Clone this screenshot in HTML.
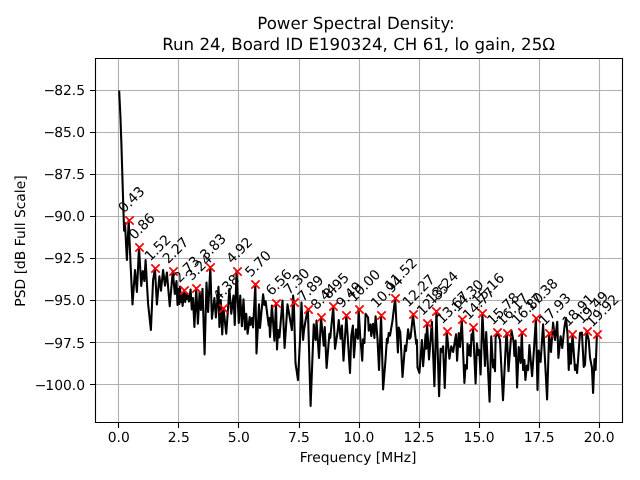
<!DOCTYPE html>
<html lang="en"><head><meta charset="utf-8"><title>Power Spectral Density</title>
<style>html,body{margin:0;padding:0;background:#fff;}svg{display:block;will-change:transform;}text{font-family:"DejaVu Sans", "Liberation Sans", sans-serif;fill:#000;text-rendering:geometricPrecision;}text.a{letter-spacing:-0.25px;}</style>
</head><body>
<svg width="640" height="480" viewBox="0 0 640 480">
<rect x="0" y="0" width="640" height="480" fill="#ffffff"/>
<path d="M118.5 58.50V422.50M178.5 58.50V422.50M238.5 58.50V422.50M299.5 58.50V422.50M359.5 58.50V422.50M419.5 58.50V422.50M479.5 58.50V422.50M539.5 58.50V422.50M599.5 58.50V422.50M95.50 90.5H622.50M95.50 132.5H622.50M95.50 174.5H622.50M95.50 216.5H622.50M95.50 258.5H622.50M95.50 300.5H622.50M95.50 342.5H622.50M95.50 384.5H622.50" fill="none" stroke="#b0b0b0" stroke-width="1.111"/>
<path d="M119.20 91.50 L120.40 116.00 L121.30 141.00 L123.10 200.00 L124.10 230.60 L125.00 223.00 L126.90 260.00 L128.69 220.30 L130.60 265.00 L132.50 304.40 L135.00 270.00 L136.90 291.90 L139.01 247.50 L141.25 286.00 L142.75 271.00 L144.40 281.00 L145.60 260.00 L148.10 304.00 L150.90 330.00 L153.10 280.00 L154.96 268.50 L156.90 304.40 L159.40 276.25 L161.00 290.60 L163.10 270.00 L165.00 285.60 L166.90 272.50 L169.75 306.25 L172.79 271.00 L174.80 294.00 L176.50 281.00 L177.50 305.00 L178.40 289.00 L179.30 304.00 L180.00 286.50 L181.00 302.00 L181.70 294.00 L182.60 306.00 L183.50 297.00 L184.05 290.00 L185.20 302.00 L186.00 294.00 L186.80 299.00 L187.80 295.00 L189.00 301.50 L190.60 289.50 L191.80 309.50 L193.00 298.00 L194.40 327.00 L196.25 288.00 L197.90 323.75 L199.60 291.90 L200.90 310.00 L202.50 288.75 L204.60 354.40 L206.50 282.50 L208.10 311.90 L210.32 267.50 L211.90 318.75 L214.40 298.00 L215.90 317.50 L218.50 286.90 L219.40 327.00 L220.80 300.00 L222.25 334.40 L223.46 308.40 L226.25 333.75 L229.40 288.75 L231.25 313.75 L233.50 295.60 L234.75 325.00 L236.59 271.00 L238.75 323.00 L240.25 295.60 L241.90 326.25 L243.50 299.40 L245.00 329.40 L246.25 313.75 L247.60 333.75 L249.75 317.00 L250.50 325.00 L252.00 318.00 L253.10 327.50 L255.36 284.40 L256.50 353.50 L259.00 304.40 L260.00 328.00 L263.10 294.40 L264.40 305.00 L265.60 301.25 L268.75 325.60 L269.30 318.00 L270.00 337.00 L271.90 305.60 L274.40 340.60 L276.00 303.00 L277.00 349.40 L278.10 330.00 L279.40 337.50 L282.50 300.60 L284.60 348.00 L287.50 304.40 L291.90 330.00 L293.10 295.60 L293.83 302.00 L295.50 363.00 L298.00 380.00 L300.00 340.00 L301.50 302.50 L303.10 340.00 L304.00 330.00 L306.00 318.00 L307.90 309.00 L310.60 406.00 L313.75 324.40 L315.60 340.00 L316.50 320.60 L319.00 358.00 L321.04 317.25 L323.75 345.60 L324.75 327.00 L326.60 368.00 L329.40 333.75 L330.25 338.00 L333.24 306.50 L335.00 348.75 L337.50 332.50 L338.75 320.00 L340.60 338.75 L341.90 325.60 L343.50 360.60 L346.37 315.60 L350.00 373.00 L351.25 336.25 L352.90 325.60 L354.00 357.50 L356.00 329.40 L357.90 338.75 L358.57 309.40 L360.20 336.00 L362.25 360.60 L363.10 339.40 L364.40 343.00 L365.60 313.75 L368.10 317.50 L368.75 330.60 L370.60 324.40 L371.25 336.00 L373.10 323.75 L374.40 338.00 L375.60 316.25 L377.50 338.75 L379.00 370.00 L381.09 315.60 L383.10 389.40 L385.60 358.75 L386.90 338.75 L387.50 343.00 L388.75 333.00 L390.00 335.60 L392.50 320.60 L395.16 298.00 L397.90 352.50 L398.75 327.50 L400.25 332.00 L402.50 377.00 L405.00 345.60 L406.00 351.00 L408.10 329.40 L409.40 338.75 L410.60 337.50 L412.99 314.40 L416.25 344.00 L416.90 340.00 L417.50 367.50 L419.40 373.00 L421.90 340.00 L423.10 366.25 L425.60 334.40 L426.25 348.75 L427.06 323.00 L429.00 359.40 L431.90 321.90 L434.40 386.25 L436.45 311.25 L439.10 396.25 L440.60 348.75 L441.50 352.00 L443.10 346.25 L444.75 388.00 L446.77 331.25 L449.40 358.75 L451.25 346.25 L453.10 352.00 L456.00 334.40 L457.10 360.60 L458.75 333.00 L460.00 347.00 L461.78 319.40 L464.40 383.00 L465.60 365.00 L466.90 368.75 L467.50 343.75 L468.75 355.00 L470.00 345.00 L470.60 356.25 L471.50 334.40 L472.50 340.00 L473.04 327.25 L475.60 383.50 L476.90 343.50 L478.40 355.00 L479.20 350.00 L480.60 374.40 L482.42 313.00 L485.00 366.00 L486.20 332.00 L489.60 401.70 L491.25 336.25 L493.10 367.50 L494.00 360.00 L495.00 371.25 L495.60 337.50 L497.44 332.50 L500.00 340.00 L503.00 400.10 L506.25 336.00 L506.82 333.00 L508.50 371.25 L511.50 330.60 L513.75 342.50 L514.40 356.00 L515.60 340.60 L517.10 387.50 L518.75 347.00 L520.60 363.00 L521.83 332.25 L523.10 370.00 L524.40 360.00 L525.40 380.00 L526.90 365.60 L528.10 370.00 L529.40 345.00 L532.10 376.25 L533.75 352.50 L535.91 318.40 L537.50 390.00 L538.75 350.60 L540.60 362.00 L543.10 324.40 L547.10 399.40 L548.75 346.00 L549.04 333.00 L551.00 352.00 L553.10 322.50 L555.00 340.00 L557.25 321.90 L558.40 358.00 L560.60 336.25 L562.25 348.00 L564.40 327.50 L566.00 318.00 L567.50 333.75 L568.75 370.00 L570.00 343.75 L570.90 363.75 L572.50 334.00 L575.00 370.00 L576.00 365.00 L577.10 373.00 L580.00 333.00 L581.90 332.50 L583.75 367.00 L585.00 365.00 L586.57 331.25 L588.75 340.00 L590.00 357.50 L591.90 367.50 L593.10 393.00 L594.50 359.00 L595.60 370.00 L596.89 334.40" fill="none" stroke="#000000" stroke-width="2.083" stroke-linejoin="round" stroke-linecap="square"/>
<path d="M125.33 216.33L133.67 224.67M125.33 224.67L133.67 216.33M135.33 243.33L143.67 251.67M135.33 251.67L143.67 243.33M151.33 264.33L159.67 272.67M151.33 272.67L159.67 264.33M169.33 267.33L177.67 275.67M169.33 275.67L177.67 267.33M180.33 286.33L188.67 294.67M180.33 294.67L188.67 286.33M192.33 284.33L200.67 292.67M192.33 292.67L200.67 284.33M206.33 263.33L214.67 271.67M206.33 271.67L214.67 263.33M219.33 304.33L227.67 312.67M219.33 312.67L227.67 304.33M233.33 267.33L241.67 275.67M233.33 275.67L241.67 267.33M251.33 280.33L259.67 288.67M251.33 288.67L259.67 280.33M272.33 299.33L280.67 307.67M272.33 307.67L280.67 299.33M290.33 298.33L298.67 306.67M290.33 306.67L298.67 298.33M304.33 305.33L312.67 313.67M304.33 313.67L312.67 305.33M317.33 313.33L325.67 321.67M317.33 321.67L325.67 313.33M329.33 302.33L337.67 310.67M329.33 310.67L337.67 302.33M342.33 311.33L350.67 319.67M342.33 319.67L350.67 311.33M355.33 305.33L363.67 313.67M355.33 313.67L363.67 305.33M377.33 311.33L385.67 319.67M377.33 319.67L385.67 311.33M391.33 294.33L399.67 302.67M391.33 302.67L399.67 294.33M409.33 310.33L417.67 318.67M409.33 318.67L417.67 310.33M423.33 319.33L431.67 327.67M423.33 327.67L431.67 319.33M432.33 307.33L440.67 315.67M432.33 315.67L440.67 307.33M443.33 327.33L451.67 335.67M443.33 335.67L451.67 327.33M458.33 315.33L466.67 323.67M458.33 323.67L466.67 315.33M469.33 323.33L477.67 331.67M469.33 331.67L477.67 323.33M478.33 309.33L486.67 317.67M478.33 317.67L486.67 309.33M493.33 328.33L501.67 336.67M493.33 336.67L501.67 328.33M503.33 329.33L511.67 337.67M503.33 337.67L511.67 329.33M518.33 328.33L526.67 336.67M518.33 336.67L526.67 328.33M532.33 314.33L540.67 322.67M532.33 322.67L540.67 314.33M545.33 329.33L553.67 337.67M545.33 337.67L553.67 329.33M568.33 330.33L576.67 338.67M568.33 338.67L576.67 330.33M583.33 327.33L591.67 335.67M583.33 335.67L591.67 327.33M593.33 330.33L601.67 338.67M593.33 338.67L601.67 330.33" fill="none" stroke="#ff0000" stroke-width="1.700" stroke-linecap="butt"/>
<path d="M118.5 422.50v5.50M178.5 422.50v5.50M238.5 422.50v5.50M299.5 422.50v5.50M359.5 422.50v5.50M419.5 422.50v5.50M479.5 422.50v5.50M539.5 422.50v5.50M599.5 422.50v5.50M95.50 90.5h-5.50M95.50 132.5h-5.50M95.50 174.5h-5.50M95.50 216.5h-5.50M95.50 258.5h-5.50M95.50 300.5h-5.50M95.50 342.5h-5.50M95.50 384.5h-5.50" fill="none" stroke="#000000" stroke-width="1.111"/>
<path d="M95.5 58.5H622.5V422.5H95.5Z" fill="none" stroke="#000000" stroke-width="1.111" stroke-linejoin="miter" stroke-linecap="square"/>
<text font-size="13.889" text-anchor="middle" x="118.77" y="442.48">0.0</text>
<text font-size="13.889" text-anchor="middle" x="178.82" y="442.48">2.5</text>
<text font-size="13.889" text-anchor="middle" x="238.87" y="442.48">5.0</text>
<text font-size="13.889" text-anchor="middle" x="298.92" y="442.48">7.5</text>
<text font-size="13.889" text-anchor="middle" x="358.97" y="442.48">10.0</text>
<text font-size="13.889" text-anchor="middle" x="419.02" y="442.48">12.5</text>
<text font-size="13.889" text-anchor="middle" x="479.07" y="442.48">15.0</text>
<text font-size="13.889" text-anchor="middle" x="539.12" y="442.48">17.5</text>
<text font-size="13.889" text-anchor="middle" x="599.17" y="442.48">20.0</text>
<text font-size="13.889" text-anchor="middle" x="358.10" y="461.97">Frequency [MHz]</text>
<text font-size="13.889" text-anchor="end" x="85.08" y="390.28"><tspan>−</tspan><tspan dx="-1">100.0</tspan></text>
<text font-size="13.889" text-anchor="end" x="85.08" y="348.28"><tspan>−</tspan><tspan dx="-1">97.5</tspan></text>
<text font-size="13.889" text-anchor="end" x="85.08" y="305.28"><tspan>−</tspan><tspan dx="-1">95.0</tspan></text>
<text font-size="13.889" text-anchor="end" x="85.08" y="263.28"><tspan>−</tspan><tspan dx="-1">92.5</tspan></text>
<text font-size="13.889" text-anchor="end" x="85.08" y="221.28"><tspan>−</tspan><tspan dx="-1">90.0</tspan></text>
<text font-size="13.889" text-anchor="end" x="85.08" y="179.28"><tspan>−</tspan><tspan dx="-1">87.5</tspan></text>
<text font-size="13.889" text-anchor="end" x="85.08" y="137.28"><tspan>−</tspan><tspan dx="-1">85.0</tspan></text>
<text font-size="13.889" text-anchor="end" x="85.08" y="95.28"><tspan>−</tspan><tspan dx="-1">82.5</tspan></text>
<text font-size="13.889" text-anchor="middle" transform="translate(25.23 240.97) rotate(-90)">PSD [dB Full Scale]</text>
<text class="a" font-size="13.889" transform="translate(124.07 213.54) rotate(-45)">0.43</text>
<text class="a" font-size="13.889" transform="translate(134.39 240.29) rotate(-45)">0.86</text>
<text class="a" font-size="13.889" transform="translate(150.34 261.74) rotate(-45)">1.52</text>
<text class="a" font-size="13.889" transform="translate(168.17 264.24) rotate(-45)">2.27</text>
<text class="a" font-size="13.889" transform="translate(179.43 283.24) rotate(-45)">2.73</text>
<text class="a" font-size="13.889" transform="translate(191.63 281.24) rotate(-45)">3.24</text>
<text class="a" font-size="13.889" transform="translate(205.70 260.74) rotate(-45)">3.83</text>
<text class="a" font-size="13.889" transform="translate(218.84 301.64) rotate(-45)">4.38</text>
<text class="a" font-size="13.889" transform="translate(231.97 264.24) rotate(-45)">4.92</text>
<text class="a" font-size="13.889" transform="translate(250.74 277.64) rotate(-45)">5.70</text>
<text class="a" font-size="13.889" transform="translate(271.38 296.24) rotate(-45)">6.56</text>
<text class="a" font-size="13.889" transform="translate(289.21 295.24) rotate(-45)">7.30</text>
<text class="a" font-size="13.889" transform="translate(303.28 302.24) rotate(-45)">7.89</text>
<text class="a" font-size="13.889" transform="translate(316.42 310.49) rotate(-45)">8.44</text>
<text class="a" font-size="13.889" transform="translate(328.62 299.74) rotate(-45)">8.95</text>
<text class="a" font-size="13.889" transform="translate(341.75 308.84) rotate(-45)">9.49</text>
<text class="a" font-size="13.889" transform="translate(353.95 302.64) rotate(-45)">10.00</text>
<text class="a" font-size="13.889" transform="translate(376.47 308.84) rotate(-45)">10.94</text>
<text class="a" font-size="13.889" transform="translate(390.54 291.24) rotate(-45)">11.52</text>
<text class="a" font-size="13.889" transform="translate(408.37 307.64) rotate(-45)">12.27</text>
<text class="a" font-size="13.889" transform="translate(422.44 316.24) rotate(-45)">12.85</text>
<text class="a" font-size="13.889" transform="translate(431.83 304.49) rotate(-45)">13.24</text>
<text class="a" font-size="13.889" transform="translate(442.15 324.49) rotate(-45)">13.67</text>
<text class="a" font-size="13.889" transform="translate(457.16 312.64) rotate(-45)">14.30</text>
<text class="a" font-size="13.889" transform="translate(468.42 320.49) rotate(-45)">14.77</text>
<text class="a" font-size="13.889" transform="translate(477.80 306.24) rotate(-45)">15.16</text>
<text class="a" font-size="13.889" transform="translate(492.81 325.74) rotate(-45)">15.78</text>
<text class="a" font-size="13.889" transform="translate(502.20 326.24) rotate(-45)">16.17</text>
<text class="a" font-size="13.889" transform="translate(517.21 325.49) rotate(-45)">16.80</text>
<text class="a" font-size="13.889" transform="translate(531.28 311.64) rotate(-45)">17.38</text>
<text class="a" font-size="13.889" transform="translate(544.42 326.24) rotate(-45)">17.93</text>
<text class="a" font-size="13.889" transform="translate(567.88 327.24) rotate(-45)">18.91</text>
<text class="a" font-size="13.889" transform="translate(581.95 324.49) rotate(-45)">19.49</text>
<text class="a" font-size="13.889" transform="translate(592.27 327.64) rotate(-45)">19.92</text>
<text font-size="16.667" text-anchor="middle" x="355.95" y="28.70">Power Spectral Density:</text>
<text font-size="16.667" text-anchor="middle" x="358.60" y="50.00">Run 24, Board ID E190324, CH 61, lo gain, 25Ω</text>
</svg>
</body></html>
